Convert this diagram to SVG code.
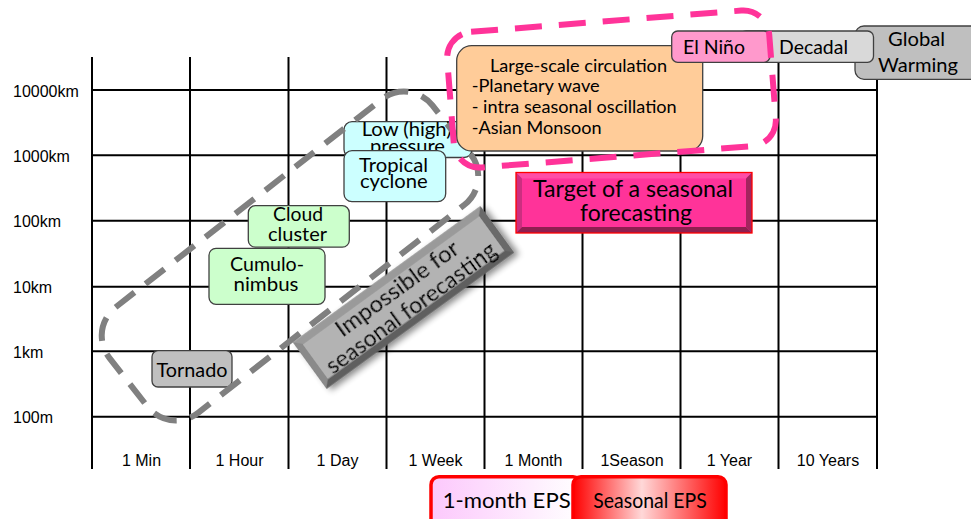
<svg xmlns="http://www.w3.org/2000/svg" width="971" height="519" viewBox="0 0 971 519">
  <style>
    .grid { stroke: #000; stroke-width: 2; fill: none; }
    .ax { font-family: "Liberation Sans", Arial, sans-serif; font-size: 16px; fill: #000; }
    .ax-x { text-anchor: middle; }
    .lbl { font-family: Lato, "Liberation Sans", sans-serif; fill: #000; }
    .mid { text-anchor: middle; }
    .box { stroke: #404040; stroke-width: 1.3; }
    .green { fill: #ccffcc; }
    .cyan { fill: #ccffff; }
    .region-grey { fill: none; stroke: #808080; stroke-width: 6; stroke-dasharray: 24 14; }
    .region-pink { fill: none; stroke: #ff3399; stroke-width: 6; stroke-dasharray: 27 17; }
  </style>
  <defs>
    <linearGradient id="monthGrad" x1="0" y1="0" x2="1" y2="0">
      <stop offset="0" stop-color="#fcc8fc"/>
      <stop offset="1" stop-color="#ffffff"/>
    </linearGradient>
    <linearGradient id="seasonGrad" x1="0" y1="0" x2="1" y2="0">
      <stop offset="0" stop-color="#ff0000"/>
      <stop offset="0.45" stop-color="#ffd8d8"/>
      <stop offset="1" stop-color="#ff0000"/>
    </linearGradient>
    <filter id="shadow" x="-20%" y="-40%" width="140%" height="180%">
      <feDropShadow dx="3" dy="4" stdDeviation="3" flood-color="#000" flood-opacity="0.45"/>
    </filter>
    <clipPath id="lowClip">
      <rect x="344" y="121.7" width="128" height="29"/>
    </clipPath>
  </defs>

  <rect width="971" height="519" fill="#fff"/>

  <!-- chart grid -->
  <g id="grid" class="grid">
    <line x1="92" y1="57" x2="92" y2="469"/>
    <line x1="190" y1="57" x2="190" y2="469"/>
    <line x1="288.5" y1="57" x2="288.5" y2="469"/>
    <line x1="386.5" y1="57" x2="386.5" y2="469"/>
    <line x1="484.5" y1="57" x2="484.5" y2="469"/>
    <line x1="582.5" y1="57" x2="582.5" y2="469"/>
    <line x1="680.5" y1="57" x2="680.5" y2="469"/>
    <line x1="778.5" y1="57" x2="778.5" y2="469"/>
    <line x1="877" y1="57" x2="877" y2="469"/>
    <line x1="92" y1="90" x2="877" y2="90"/>
    <line x1="92" y1="155.3" x2="877" y2="155.3"/>
    <line x1="92" y1="220.7" x2="877" y2="220.7"/>
    <line x1="92" y1="286.7" x2="877" y2="286.7"/>
    <line x1="92" y1="351.3" x2="877" y2="351.3"/>
    <line x1="92" y1="416.7" x2="877" y2="416.7"/>
  </g>

  <!-- axis labels -->
  <g id="axis-y" class="ax">
    <text x="13" y="96.5">10000km</text>
    <text x="13" y="162">1000km</text>
    <text x="13" y="227">100km</text>
    <text x="13" y="293">10km</text>
    <text x="13" y="358">1km</text>
    <text x="13" y="423">100m</text>
  </g>
  <g id="axis-x" class="ax ax-x">
    <text x="141.5" y="466">1 Min</text>
    <text x="239.5" y="466">1 Hour</text>
    <text x="337.5" y="466">1 Day</text>
    <text x="435.5" y="466">1 Week</text>
    <text x="533.5" y="466">1 Month</text>
    <text x="632" y="466">1Season</text>
    <text x="729.5" y="466">1 Year</text>
    <text x="828" y="466">10 Years</text>
  </g>

  <!-- phenomena -->
  <g id="tornado">
    <rect class="box" x="152" y="350.7" width="80" height="36.3" rx="6" fill="#c0c0c0"/>
    <text class="lbl" x="156.5" y="377.3" font-size="20" textLength="71" lengthAdjust="spacingAndGlyphs">Tornado</text>
  </g>
  <g id="cumulonimbus">
    <rect class="box green" x="209" y="248.3" width="116" height="56" rx="7"/>
    <text class="lbl mid" x="267" y="271" font-size="20" textLength="74" lengthAdjust="spacingAndGlyphs">Cumulo-</text>
    <text class="lbl mid" x="266" y="290.7" font-size="20" textLength="65" lengthAdjust="spacingAndGlyphs">nimbus</text>
  </g>
  <g id="cloud-cluster">
    <rect class="box green" x="248.3" y="205.7" width="101" height="41.5" rx="7"/>
    <text class="lbl mid" x="298" y="221" font-size="20" textLength="50" lengthAdjust="spacingAndGlyphs">Cloud</text>
    <text class="lbl mid" x="297.5" y="240.5" font-size="20" textLength="59" lengthAdjust="spacingAndGlyphs">cluster</text>
  </g>
  <g id="low-pressure">
    <rect class="box cyan" x="344" y="121.7" width="128" height="35.8" rx="8"/>
    <text class="lbl mid" x="406.7" y="136" font-size="20" textLength="90" lengthAdjust="spacingAndGlyphs">Low (high)</text>
    <text class="lbl mid" x="407.5" y="153" font-size="20" textLength="75" lengthAdjust="spacingAndGlyphs" clip-path="url(#lowClip)">pressure</text>
  </g>
  <g id="tropical-cyclone">
    <rect class="box cyan" x="344" y="150.7" width="101.7" height="51" rx="8"/>
    <text class="lbl mid" x="393.5" y="172" font-size="20" textLength="69" lengthAdjust="spacingAndGlyphs">Tropical</text>
    <text class="lbl mid" x="393.8" y="188" font-size="20" textLength="67.7" lengthAdjust="spacingAndGlyphs">cyclone</text>
  </g>

  <!-- region of scales out of reach of seasonal forecasts -->
  <g id="region-impossible">
    <rect class="region-grey" x="-205" y="-67" width="410" height="134" rx="36" transform="translate(290 256) rotate(-38)"/>
  </g>

  <g id="impossible" transform="translate(403.5 297.5) rotate(-36)" filter="url(#shadow)">
    <rect x="-116" y="-28.5" width="232" height="57" fill="#6e6e6e"/>
    <polygon points="-116,-28.5 116,-28.5 109,-21.5 -109,-21.5" fill="#9a9a9a"/>
    <polygon points="-116,-28.5 -109,-21.5 -109,21.5 -116,28.5" fill="#8a8a8a"/>
    <polygon points="116,-28.5 116,28.5 109,21.5 109,-21.5" fill="#6a6a6a"/>
    <polygon points="-116,28.5 -109,21.5 109,21.5 116,28.5" fill="#5e5e5e"/>
    <rect x="-109" y="-21.5" width="218" height="43" fill="#b3b3b3"/>
    <text class="lbl mid" x="0" y="-3" font-size="22.5" textLength="146" lengthAdjust="spacingAndGlyphs">Impossible for</text>
    <text class="lbl mid" x="0" y="20.5" font-size="22.5" textLength="205" lengthAdjust="spacingAndGlyphs">seasonal forecasting</text>
  </g>

  <g id="large-scale">
    <rect class="box" x="456.7" y="45.7" width="246" height="105.3" rx="15" fill="#ffcc99"/>
    <text class="lbl" x="490" y="72" font-size="17.5" textLength="177" lengthAdjust="spacingAndGlyphs">Large-scale circulation</text>
    <text class="lbl" x="471.7" y="92" font-size="17.5" textLength="128" lengthAdjust="spacingAndGlyphs">-Planetary wave</text>
    <text class="lbl" x="471.7" y="112.5" font-size="17.5" textLength="205" lengthAdjust="spacingAndGlyphs">- intra seasonal oscillation</text>
    <text class="lbl" x="471.7" y="133.5" font-size="17.5" textLength="130" lengthAdjust="spacingAndGlyphs">-Asian Monsoon</text>
  </g>

  <g id="global-warming">
    <rect class="box" x="855" y="26" width="140" height="53.3" rx="9" fill="#bfbfbf"/>
    <text class="lbl" x="888" y="45.5" font-size="20" textLength="57" lengthAdjust="spacingAndGlyphs">Global</text>
    <text class="lbl" x="878" y="72" font-size="20" textLength="80" lengthAdjust="spacingAndGlyphs">Warming</text>
  </g>
  <g id="decadal">
    <rect class="box" x="740" y="31" width="133.5" height="31.3" rx="6" fill="#d9d9d9"/>
    <text class="lbl" x="779" y="53.5" font-size="20" textLength="69" lengthAdjust="spacingAndGlyphs">Decadal</text>
  </g>
  <g id="el-nino">
    <rect class="box" x="671.7" y="31" width="98.3" height="31.3" rx="6" fill="#ff99cc"/>
    <text class="lbl" x="683" y="53.5" font-size="20" textLength="62" lengthAdjust="spacingAndGlyphs">El Niño</text>
  </g>

  <!-- region targeted by seasonal forecasts -->
  <g id="region-target">
    <rect class="region-pink" x="-161.5" y="-68" width="323" height="136" rx="26" transform="translate(611.5 89) rotate(-4.5)"/>
  </g>

  <g id="target">
    <rect x="516" y="172.5" width="236" height="60.5" fill="#ff3399"/>
    <polygon points="516,172.5 752,172.5 746,178.5 522,178.5" fill="#ff4da6"/>
    <polygon points="516,172.5 522,178.5 522,227 516,233" fill="#cc2e80"/>
    <polygon points="752,172.5 752,233 746,227 746,178.5" fill="#a3245e"/>
    <polygon points="516,233 522,227 746,227 752,233" fill="#8f1f50"/>
    <rect x="516" y="172.5" width="236" height="60.5" fill="none" stroke="#ff0000" stroke-width="1.3"/>
    <text class="lbl mid" x="633" y="197" font-size="23.5" textLength="200" lengthAdjust="spacingAndGlyphs">Target of a seasonal</text>
    <text class="lbl mid" x="636" y="221" font-size="23.5" textLength="112" lengthAdjust="spacingAndGlyphs">forecasting</text>
  </g>

  <!-- forecast systems -->
  <g id="eps-1month">
    <rect x="431" y="476.7" width="150" height="60" rx="8" fill="url(#monthGrad)" stroke="#ff0000" stroke-width="3.5"/>
    <text class="lbl" x="442.7" y="508" font-size="22" textLength="128" lengthAdjust="spacingAndGlyphs">1-month EPS</text>
  </g>
  <g id="eps-seasonal">
    <rect x="573" y="476.7" width="153" height="60" rx="8" fill="url(#seasonGrad)" stroke="#ff0000" stroke-width="3.5"/>
    <text class="lbl" x="593.3" y="508" font-size="20.5" textLength="113.4" lengthAdjust="spacingAndGlyphs">Seasonal EPS</text>
  </g>
</svg>
